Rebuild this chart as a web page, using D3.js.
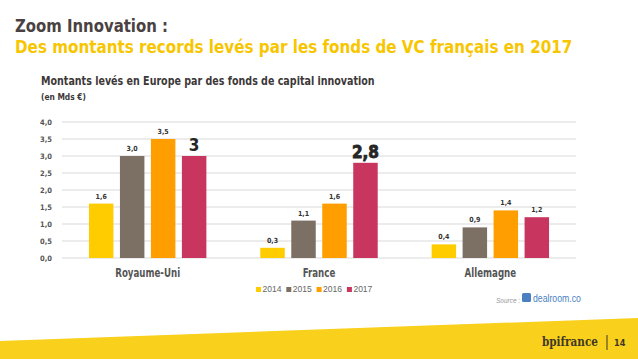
<!DOCTYPE html>
<html>
<head>
<meta charset="utf-8">
<script src="https://cdn.jsdelivr.net/npm/d3@7"></script>
<style>
  body { margin: 0; background: #fff; }
  svg text { font-family: "DejaVu Sans Condensed", "DejaVu Sans", sans-serif; }
</style>
</head>
<body>
<div id="mydiv"></div>
<script>
var countries = ["Royaume-Uni", "France", "Allemagne"];
var years = ["2014", "2015", "2016", "2017"];
var values = [
    [1.6, 3.0, 3.5, 3.0],
    [0.3, 1.1, 1.6, 2.8],
    [0.4, 0.9, 1.4, 1.2]
];
var valueLabels = [
    ["1,6", "3,0", "3,5", "3"],
    ["0,3", "1,1", "1,6", "2,8"],
    ["0,4", "0,9", "1,4", "1,2"]
];
var yTicks = [0, 0.5, 1, 1.5, 2, 2.5, 3, 3.5, 4];
var colors = ["#ffcc00", "#7c6f63", "#ff9e00", "#c8365f"];

var overAllWidth = 638;
var overAllHeight = 359;

// squeeze a text horizontally so it spans a given width (condensed look)
function fitText(sel, x, y, width) {
    var natural = sel.node().getComputedTextLength();
    var k = width / natural;
    sel.attr('x', 0).attr('y', 0)
        .attr('transform', 'translate(' + x + ',' + y + ') scale(' + k + ',1)');
    return k;
}

function main() {
    var svg = d3.select('#mydiv')
        .append('svg')
        .attr('width', overAllWidth)
        .attr('height', overAllHeight);

    // titles
    var t1 = svg.append('text')
        .attr('font-size', 18.5).attr('font-weight', 'bold')
        .attr('fill', '#4a4242')
        .text("Zoom Innovation :");
    fitText(t1, 15, 31.5, 153);

    var t2 = svg.append('text')
        .attr('font-size', 18.5).attr('font-weight', 'bold')
        .attr('fill', '#f7c600')
        .text("Des montants records levés par les fonds de VC français en 2017");
    fitText(t2, 15, 52.5, 558);

    var st = svg.append('text')
        .attr('font-size', 12).attr('font-weight', 'bold')
        .attr('fill', '#3d3838')
        .text("Montants levés en Europe par des fonds de capital innovation");
    fitText(st, 41, 85, 334);

    var st2 = svg.append('text')
        .attr('font-size', 9).attr('font-weight', 'bold')
        .attr('fill', '#3d3838')
        .text("(en Mds €)");
    fitText(st2, 41, 100, 45);

    // scales
    var x0 = d3.scaleBand()
        .domain(countries)
        .range([62, 576]);

    var x1 = d3.scaleBand()
        .domain(years)
        .range([0, x0.bandwidth()])
        .paddingInner(0.21)
        .paddingOuter(0.87);

    var y = d3.scaleLinear()
        .domain([0, 4])
        .range([258, 122]);

    // grid
    svg.append('g')
        .selectAll('line')
        .data(yTicks)
        .enter()
        .append('line')
        .attr('x1', 62).attr('x2', 576)
        .attr('y1', function (d) { return y(d); })
        .attr('y2', function (d) { return y(d); })
        .attr('stroke', '#d9d9d9')
        .attr('stroke-width', 1);

    var yAxis = d3.axisLeft(y)
        .tickValues(yTicks)
        .tickSize(0)
        .tickPadding(10)
        .tickFormat(function (d) { return d3.format('.1f')(d).replace('.', ','); });

    var yg = svg.append('g')
        .attr('transform', 'translate(62,0)')
        .call(yAxis);
    yg.select('.domain').remove();
    yg.selectAll('text')
        .attr('font-size', 7.5).attr('font-weight', 'bold')
        .attr('fill', '#555')
        .style('font-family', '"DejaVu Sans Condensed", sans-serif');

    // bars
    var groups = svg.append('g')
        .selectAll('g')
        .data(countries)
        .enter()
        .append('g')
        .attr('transform', function (d) { return 'translate(' + x0(d) + ',0)'; });

    groups.selectAll('rect')
        .data(function (d, i) {
            return years.map(function (yr, j) { return { year: yr, value: values[i][j], j: j }; });
        })
        .enter()
        .append('rect')
        .attr('x', function (d) { return x1(d.year); })
        .attr('y', function (d) { return y(d.value); })
        .attr('width', x1.bandwidth())
        .attr('height', function (d) { return y(0) - y(d.value); })
        .attr('fill', function (d) { return colors[d.j]; });

    groups.selectAll('text.val')
        .data(function (d, i) {
            return years.map(function (yr, j) { return { year: yr, value: values[i][j], label: valueLabels[i][j], big: i < 2 && j === 3 }; });
        })
        .enter()
        .append('text')
        .attr('class', 'val')
        .attr('x', function (d) { return x1(d.year) + x1.bandwidth() / 2; })
        .attr('y', function (d) { return y(d.value) - 5; })
        .attr('text-anchor', 'middle')
        .attr('font-size', function (d) { return d.big ? 17 : 7; })
        .attr('font-weight', 'bold')
        .attr('fill', function (d) { return d.big ? '#262626' : '#333'; })
        .attr('stroke', function (d) { return d.label === "2,8" ? '#262626' : 'none'; })
        .attr('stroke-width', 0.8)
        .text(function (d) { return d.label; });

    // category labels
    var cats = svg.append('g')
        .selectAll('text')
        .data(countries)
        .enter()
        .append('text')
        .attr('text-anchor', 'middle')
        .attr('font-size', 12.5).attr('font-weight', 'bold')
        .attr('fill', '#555')
        .text(function (d) { return d; });
    var kCat = 65 / cats.filter(function (d) { return d === "Royaume-Uni"; }).node().getComputedTextLength();
    cats.attr('transform', function (d) {
        return 'translate(' + (x0(d) + x0.bandwidth() / 2) + ',277) scale(' + kCat + ',1)';
    });

    // legend
    var legend = svg.append('g')
        .selectAll('g')
        .data(years)
        .enter()
        .append('g')
        .attr('transform', function (d, i) { return 'translate(' + (256 + i * 30.3) + ',292)'; });

    legend.append('rect')
        .attr('x', 0).attr('y', -5)
        .attr('width', 5).attr('height', 5)
        .attr('fill', function (d, i) { return colors[i]; });

    legend.append('text')
        .attr('x', 6.5).attr('y', 0)
        .attr('font-size', 8.5)
        .attr('fill', '#666')
        .style('font-family', '"Liberation Sans", Arial, sans-serif')
        .text(function (d) { return d; });

    // source
    svg.append('text')
        .attr('x', 496).attr('y', 303)
        .attr('font-size', 6.5).attr('font-style', 'italic')
        .attr('fill', '#999')
        .style('font-family', '"Liberation Sans", Arial, sans-serif')
        .text("Source :");

    svg.append('rect')
        .attr('x', 522).attr('y', 293)
        .attr('width', 9).attr('height', 9)
        .attr('rx', 1.5)
        .attr('fill', '#4a7fc1');

    var dr = svg.append('text')
        .attr('font-size', 10.5)
        .attr('fill', '#4a7fc1')
        .style('font-family', '"Liberation Sans", Arial, sans-serif')
        .text("dealroom.co");
    fitText(dr, 533, 302, 48);

    // bottom band
    svg.append('path')
        .attr('d', 'M0,341 L638,318 L638,359 L0,359 Z')
        .attr('fill', '#f9d01c');

    var bp = svg.append('text')
        .attr('font-size', 12).attr('font-weight', 'bold')
        .attr('fill', '#3f3826')
        .style('font-family', '"DejaVu Serif", serif')
        .text("bpifrance");
    fitText(bp, 542, 346, 56);

    svg.append('line')
        .attr('x1', 607).attr('x2', 607)
        .attr('y1', 335).attr('y2', 350)
        .attr('stroke', '#3f3826').attr('stroke-width', 1);

    svg.append('text')
        .attr('x', 614).attr('y', 346)
        .attr('font-size', 9).attr('font-weight', 'bold')
        .attr('fill', '#3f3826')
        .text("14");
}

main();
</script>
</body>
</html>
